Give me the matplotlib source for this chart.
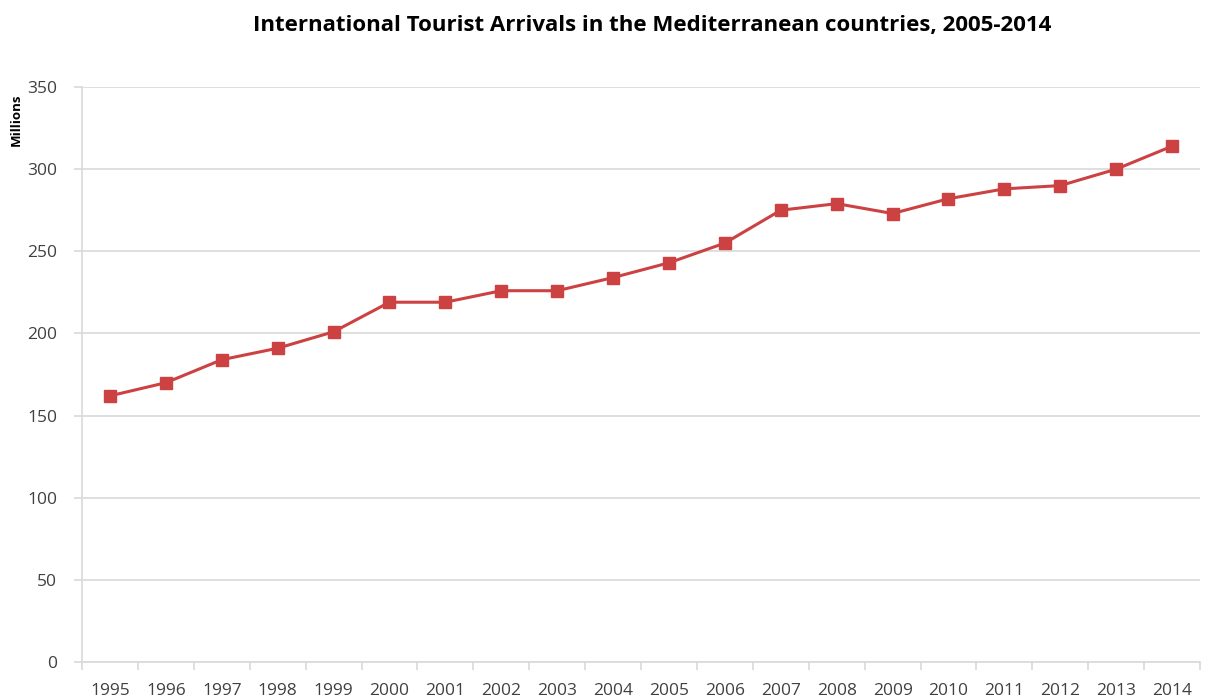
import matplotlib.pyplot as plt
import numpy as np

# Data
years = ['1995', '1996', '1997', '1998', '1999', '2000', '2001', '2002', '2003', '2004',
         '2005', '2006', '2007', '2008', '2009', '2010', '2011', '2012', '2013', '2014']
arrivals = [162, 170, 184, 191, 201, 219, 219, 226, 226, 234,
            243, 255, 275, 279, 273, 282, 288, 290, 300, 314]

plt.rcParams['font.family'] = ['Open Sans', 'DejaVu Sans']

fig = plt.figure(figsize=(12.15, 7), dpi=100)
ax = fig.add_axes([0.0675, 0.0543, 0.9202, 0.8214])

x = np.arange(len(years))
ax.plot(x, arrivals, color='#CC4142', linewidth=2.2, marker='s', markersize=8.5,
        markeredgecolor='#CC4142', markerfacecolor='#CC4142', zorder=3)

ax.set_xlim(-0.5, len(years) - 0.5)
ax.set_ylim(0, 350)
ax.set_yticks(np.arange(0, 351, 50))
ax.yaxis.grid(True, color='#D9D9D9', linewidth=1.2)
ax.set_axisbelow(True)

# category ticks sit between labels, labels at the centers
ax.set_xticks(np.arange(-0.5, len(years), 1.0))
ax.set_xticklabels([])
ax.set_xticks(x, minor=True)
ax.set_xticklabels(years, minor=True)
ax.tick_params(axis='x', which='major', length=6, color='#D9D9D9', width=1.2)
ax.tick_params(axis='x', which='minor', length=0, pad=15, labelsize=12.5, labelcolor='#404040')
ax.tick_params(axis='y', length=6, color='#D9D9D9', width=1.2, pad=12,
               labelsize=12.5, labelcolor='#404040')

for side in ['top', 'right']:
    ax.spines[side].set_visible(False)
for side in ['left', 'bottom']:
    ax.spines[side].set_color('#D9D9D9')
    ax.spines[side].set_linewidth(1.2)

ax.set_ylabel('Millions', fontsize=9.5, fontweight='bold', labelpad=4)
ax.yaxis.set_label_coords(-0.053, 0.943)

fig.suptitle('International Tourist Arrivals in the Mediterranean countries, 2005-2014',
             fontsize=16, fontweight='bold', x=0.537, y=0.978)

fig.savefig('out.png', dpi=100)
